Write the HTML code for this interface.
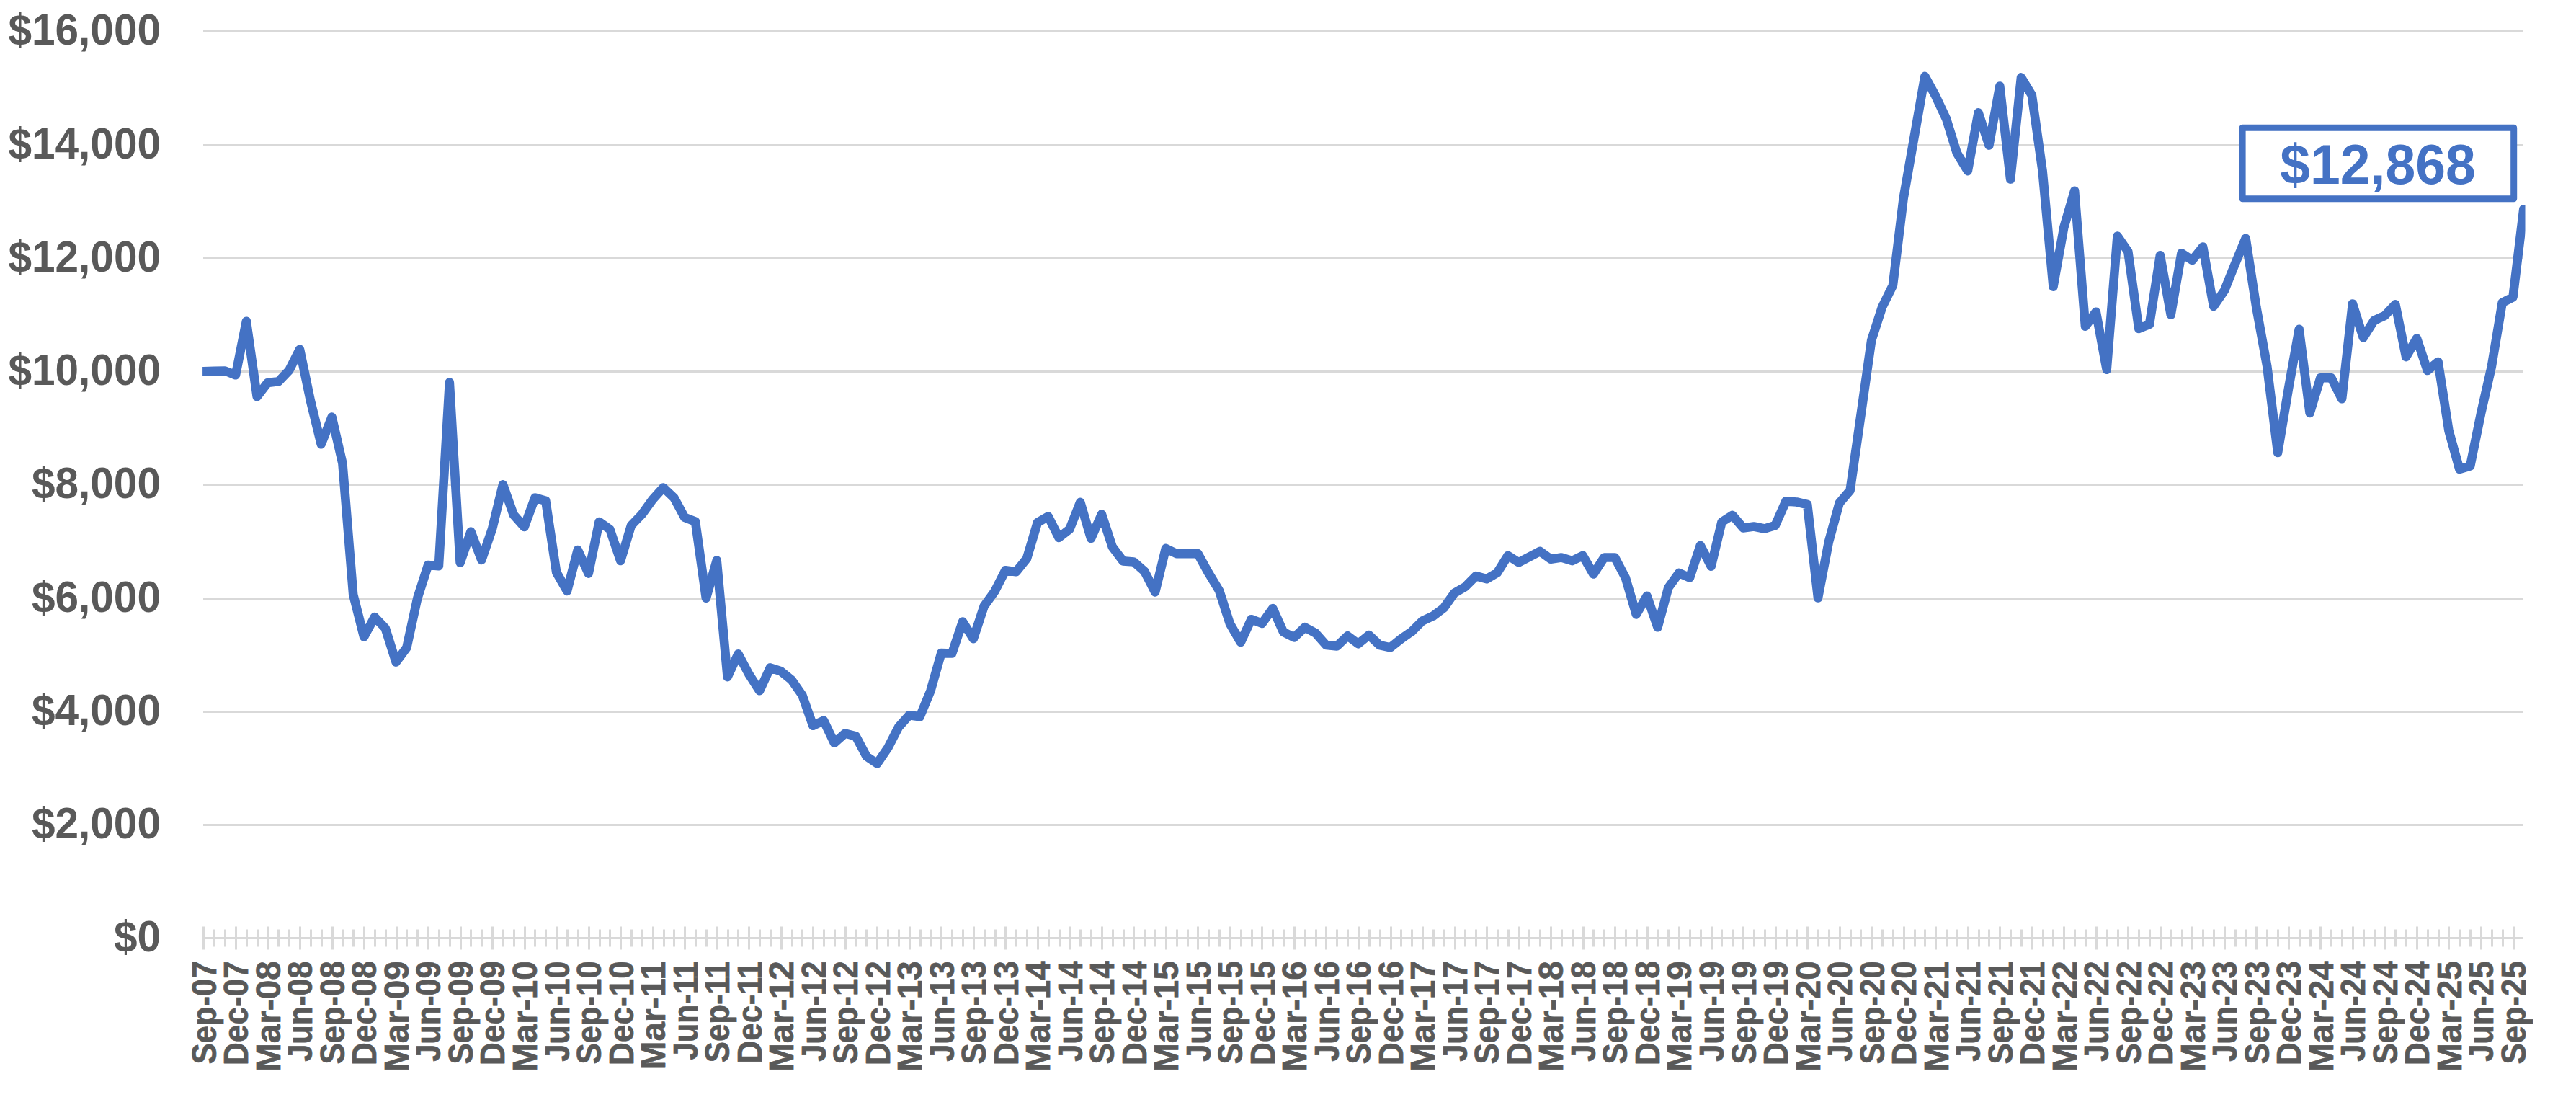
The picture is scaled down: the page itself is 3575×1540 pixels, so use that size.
<!DOCTYPE html>
<html><head><meta charset="utf-8"><title>Chart</title>
<style>
html,body{margin:0;padding:0;background:#fff;}
body{width:3575px;height:1540px;overflow:hidden;}
svg{display:block;}
text{font-family:"Liberation Sans",sans-serif;font-weight:bold;}
.yl{font-size:60.5px;fill:#595959;text-anchor:end;}
.xl{font-size:48px;fill:#595959;text-anchor:end;stroke:#595959;stroke-width:0.7px;stroke-linejoin:round;}
.val{font-size:77px;fill:#4472C4;text-anchor:middle;}
</style></head><body>
<svg width="3575" height="1540" viewBox="0 0 3575 1540">
<rect width="3575" height="1540" fill="#fff"/>

<g fill="#D9D9D9" shape-rendering="crispEdges">
<rect x="282.3" y="42" width="3218.9" height="3"/>
<rect x="282.3" y="200" width="3218.9" height="3"/>
<rect x="282.3" y="357" width="3218.9" height="3"/>
<rect x="282.3" y="514" width="3218.9" height="3"/>
<rect x="282.3" y="671" width="3218.9" height="3"/>
<rect x="282.3" y="829" width="3218.9" height="3"/>
<rect x="282.3" y="986" width="3218.9" height="3"/>
<rect x="282.3" y="1143" width="3218.9" height="3"/>
<rect x="281" y="1300" width="3220" height="3"/>
<path shape-rendering="auto" d="M281 1285.5h3v32h-3zM296 1289.5h3v24h-3zM311 1289.5h3v24h-3zM326 1285.5h3v32h-3zM341 1289.5h3v24h-3zM356 1289.5h3v24h-3zM371 1285.5h3v32h-3zM385 1289.5h3v24h-3zM400 1289.5h3v24h-3zM415 1285.5h3v32h-3zM430 1289.5h3v24h-3zM445 1289.5h3v24h-3zM460 1285.5h3v32h-3zM474 1289.5h3v24h-3zM489 1289.5h3v24h-3zM504 1285.5h3v32h-3zM519 1289.5h3v24h-3zM534 1289.5h3v24h-3zM549 1285.5h3v32h-3zM563 1289.5h3v24h-3zM578 1289.5h3v24h-3zM593 1285.5h3v32h-3zM608 1289.5h3v24h-3zM623 1289.5h3v24h-3zM638 1285.5h3v32h-3zM652 1289.5h3v24h-3zM667 1289.5h3v24h-3zM682 1285.5h3v32h-3zM697 1289.5h3v24h-3zM712 1289.5h3v24h-3zM727 1285.5h3v32h-3zM741 1289.5h3v24h-3zM756 1289.5h3v24h-3zM771 1285.5h3v32h-3zM786 1289.5h3v24h-3zM801 1289.5h3v24h-3zM816 1285.5h3v32h-3zM831 1289.5h3v24h-3zM845 1289.5h3v24h-3zM860 1285.5h3v32h-3zM875 1289.5h3v24h-3zM890 1289.5h3v24h-3zM905 1285.5h3v32h-3zM920 1289.5h3v24h-3zM934 1289.5h3v24h-3zM949 1285.5h3v32h-3zM964 1289.5h3v24h-3zM979 1289.5h3v24h-3zM994 1285.5h3v32h-3zM1009 1289.5h3v24h-3zM1023 1289.5h3v24h-3zM1038 1285.5h3v32h-3zM1053 1289.5h3v24h-3zM1068 1289.5h3v24h-3zM1083 1285.5h3v32h-3zM1098 1289.5h3v24h-3zM1112 1289.5h3v24h-3zM1127 1285.5h3v32h-3zM1142 1289.5h3v24h-3zM1157 1289.5h3v24h-3zM1172 1285.5h3v32h-3zM1187 1289.5h3v24h-3zM1201 1289.5h3v24h-3zM1216 1285.5h3v32h-3zM1231 1289.5h3v24h-3zM1246 1289.5h3v24h-3zM1261 1285.5h3v32h-3zM1276 1289.5h3v24h-3zM1290 1289.5h3v24h-3zM1305 1285.5h3v32h-3zM1320 1289.5h3v24h-3zM1335 1289.5h3v24h-3zM1350 1285.5h3v32h-3zM1365 1289.5h3v24h-3zM1380 1289.5h3v24h-3zM1394 1285.5h3v32h-3zM1409 1289.5h3v24h-3zM1424 1289.5h3v24h-3zM1439 1285.5h3v32h-3zM1454 1289.5h3v24h-3zM1469 1289.5h3v24h-3zM1483 1285.5h3v32h-3zM1498 1289.5h3v24h-3zM1513 1289.5h3v24h-3zM1528 1285.5h3v32h-3zM1543 1289.5h3v24h-3zM1558 1289.5h3v24h-3zM1572 1285.5h3v32h-3zM1587 1289.5h3v24h-3zM1602 1289.5h3v24h-3zM1617 1285.5h3v32h-3zM1632 1289.5h3v24h-3zM1647 1289.5h3v24h-3zM1661 1285.5h3v32h-3zM1676 1289.5h3v24h-3zM1691 1289.5h3v24h-3zM1706 1285.5h3v32h-3zM1721 1289.5h3v24h-3zM1736 1289.5h3v24h-3zM1750 1285.5h3v32h-3zM1765 1289.5h3v24h-3zM1780 1289.5h3v24h-3zM1795 1285.5h3v32h-3zM1810 1289.5h3v24h-3zM1825 1289.5h3v24h-3zM1839 1285.5h3v32h-3zM1854 1289.5h3v24h-3zM1869 1289.5h3v24h-3zM1884 1285.5h3v32h-3zM1899 1289.5h3v24h-3zM1914 1289.5h3v24h-3zM1929 1285.5h3v32h-3zM1943 1289.5h3v24h-3zM1958 1289.5h3v24h-3zM1973 1285.5h3v32h-3zM1988 1289.5h3v24h-3zM2003 1289.5h3v24h-3zM2018 1285.5h3v32h-3zM2032 1289.5h3v24h-3zM2047 1289.5h3v24h-3zM2062 1285.5h3v32h-3zM2077 1289.5h3v24h-3zM2092 1289.5h3v24h-3zM2107 1285.5h3v32h-3zM2121 1289.5h3v24h-3zM2136 1289.5h3v24h-3zM2151 1285.5h3v32h-3zM2166 1289.5h3v24h-3zM2181 1289.5h3v24h-3zM2196 1285.5h3v32h-3zM2210 1289.5h3v24h-3zM2225 1289.5h3v24h-3zM2240 1285.5h3v32h-3zM2255 1289.5h3v24h-3zM2270 1289.5h3v24h-3zM2285 1285.5h3v32h-3zM2299 1289.5h3v24h-3zM2314 1289.5h3v24h-3zM2329 1285.5h3v32h-3zM2344 1289.5h3v24h-3zM2359 1289.5h3v24h-3zM2374 1285.5h3v32h-3zM2388 1289.5h3v24h-3zM2403 1289.5h3v24h-3zM2418 1285.5h3v32h-3zM2433 1289.5h3v24h-3zM2448 1289.5h3v24h-3zM2463 1285.5h3v32h-3zM2478 1289.5h3v24h-3zM2492 1289.5h3v24h-3zM2507 1285.5h3v32h-3zM2522 1289.5h3v24h-3zM2537 1289.5h3v24h-3zM2552 1285.5h3v32h-3zM2567 1289.5h3v24h-3zM2581 1289.5h3v24h-3zM2596 1285.5h3v32h-3zM2611 1289.5h3v24h-3zM2626 1289.5h3v24h-3zM2641 1285.5h3v32h-3zM2656 1289.5h3v24h-3zM2670 1289.5h3v24h-3zM2685 1285.5h3v32h-3zM2700 1289.5h3v24h-3zM2715 1289.5h3v24h-3zM2730 1285.5h3v32h-3zM2745 1289.5h3v24h-3zM2759 1289.5h3v24h-3zM2774 1285.5h3v32h-3zM2789 1289.5h3v24h-3zM2804 1289.5h3v24h-3zM2819 1285.5h3v32h-3zM2834 1289.5h3v24h-3zM2848 1289.5h3v24h-3zM2863 1285.5h3v32h-3zM2878 1289.5h3v24h-3zM2893 1289.5h3v24h-3zM2908 1285.5h3v32h-3zM2923 1289.5h3v24h-3zM2938 1289.5h3v24h-3zM2952 1285.5h3v32h-3zM2967 1289.5h3v24h-3zM2982 1289.5h3v24h-3zM2997 1285.5h3v32h-3zM3012 1289.5h3v24h-3zM3027 1289.5h3v24h-3zM3041 1285.5h3v32h-3zM3056 1289.5h3v24h-3zM3071 1289.5h3v24h-3zM3086 1285.5h3v32h-3zM3101 1289.5h3v24h-3zM3116 1289.5h3v24h-3zM3130 1285.5h3v32h-3zM3145 1289.5h3v24h-3zM3160 1289.5h3v24h-3zM3175 1285.5h3v32h-3zM3190 1289.5h3v24h-3zM3205 1289.5h3v24h-3zM3219 1285.5h3v32h-3zM3234 1289.5h3v24h-3zM3249 1289.5h3v24h-3zM3264 1285.5h3v32h-3zM3279 1289.5h3v24h-3zM3294 1289.5h3v24h-3zM3308 1285.5h3v32h-3zM3323 1289.5h3v24h-3zM3338 1289.5h3v24h-3zM3353 1285.5h3v32h-3zM3368 1289.5h3v24h-3zM3383 1289.5h3v24h-3zM3397 1285.5h3v32h-3zM3412 1289.5h3v24h-3zM3427 1289.5h3v24h-3zM3442 1285.5h3v32h-3zM3457 1289.5h3v24h-3zM3472 1289.5h3v24h-3zM3487 1285.5h3v32h-3z"/>
</g>
<text class="yl" transform="translate(223 62.4) scale(0.968 1)">$16,000</text>
<text class="yl" transform="translate(223 220.4) scale(0.968 1)">$14,000</text>
<text class="yl" transform="translate(223 377.4) scale(0.968 1)">$12,000</text>
<text class="yl" transform="translate(223 534.4) scale(0.968 1)">$10,000</text>
<text class="yl" transform="translate(223 691.4) scale(0.968 1)">$8,000</text>
<text class="yl" transform="translate(223 849.4) scale(0.968 1)">$6,000</text>
<text class="yl" transform="translate(223 1006.4) scale(0.968 1)">$4,000</text>
<text class="yl" transform="translate(223 1163.4) scale(0.968 1)">$2,000</text>
<text class="yl" transform="translate(223 1320.4) scale(0.968 1)">$0</text>
<text class="xl" transform="translate(299.8 1333.3) rotate(-90) scale(0.9107 1)">Sep-07</text>
<text class="xl" transform="translate(344.3 1333.3) rotate(-90) scale(0.919 1)">Dec-07</text>
<text class="xl" transform="translate(388.8 1333.3) rotate(-90) scale(0.9927 1)">Mar-08</text>
<text class="xl" transform="translate(433.3 1333.3) rotate(-90) scale(0.902 1)">Jun-08</text>
<text class="xl" transform="translate(477.9 1333.3) rotate(-90) scale(0.9107 1)">Sep-08</text>
<text class="xl" transform="translate(522.4 1333.3) rotate(-90) scale(0.919 1)">Dec-08</text>
<text class="xl" transform="translate(566.9 1333.3) rotate(-90) scale(0.9927 1)">Mar-09</text>
<text class="xl" transform="translate(611.4 1333.3) rotate(-90) scale(0.902 1)">Jun-09</text>
<text class="xl" transform="translate(655.9 1333.3) rotate(-90) scale(0.9107 1)">Sep-09</text>
<text class="xl" transform="translate(700.4 1333.3) rotate(-90) scale(0.919 1)">Dec-09</text>
<text class="xl" transform="translate(744.9 1333.3) rotate(-90) scale(0.9927 1)">Mar-10</text>
<text class="xl" transform="translate(789.5 1333.3) rotate(-90) scale(0.902 1)">Jun-10</text>
<text class="xl" transform="translate(834.0 1333.3) rotate(-90) scale(0.9107 1)">Sep-10</text>
<text class="xl" transform="translate(878.5 1333.3) rotate(-90) scale(0.919 1)">Dec-10</text>
<text class="xl" transform="translate(923.0 1333.3) rotate(-90) scale(0.9927 1)">Mar-11</text>
<text class="xl" transform="translate(967.5 1333.3) rotate(-90) scale(0.902 1)">Jun-11</text>
<text class="xl" transform="translate(1012.0 1333.3) rotate(-90) scale(0.9107 1)">Sep-11</text>
<text class="xl" transform="translate(1056.5 1333.3) rotate(-90) scale(0.919 1)">Dec-11</text>
<text class="xl" transform="translate(1101.1 1333.3) rotate(-90) scale(0.9927 1)">Mar-12</text>
<text class="xl" transform="translate(1145.6 1333.3) rotate(-90) scale(0.902 1)">Jun-12</text>
<text class="xl" transform="translate(1190.1 1333.3) rotate(-90) scale(0.9107 1)">Sep-12</text>
<text class="xl" transform="translate(1234.6 1333.3) rotate(-90) scale(0.919 1)">Dec-12</text>
<text class="xl" transform="translate(1279.1 1333.3) rotate(-90) scale(0.9927 1)">Mar-13</text>
<text class="xl" transform="translate(1323.6 1333.3) rotate(-90) scale(0.902 1)">Jun-13</text>
<text class="xl" transform="translate(1368.1 1333.3) rotate(-90) scale(0.9107 1)">Sep-13</text>
<text class="xl" transform="translate(1412.6 1333.3) rotate(-90) scale(0.919 1)">Dec-13</text>
<text class="xl" transform="translate(1457.2 1333.3) rotate(-90) scale(0.9927 1)">Mar-14</text>
<text class="xl" transform="translate(1501.7 1333.3) rotate(-90) scale(0.902 1)">Jun-14</text>
<text class="xl" transform="translate(1546.2 1333.3) rotate(-90) scale(0.9107 1)">Sep-14</text>
<text class="xl" transform="translate(1590.7 1333.3) rotate(-90) scale(0.919 1)">Dec-14</text>
<text class="xl" transform="translate(1635.2 1333.3) rotate(-90) scale(0.9927 1)">Mar-15</text>
<text class="xl" transform="translate(1679.7 1333.3) rotate(-90) scale(0.902 1)">Jun-15</text>
<text class="xl" transform="translate(1724.2 1333.3) rotate(-90) scale(0.9107 1)">Sep-15</text>
<text class="xl" transform="translate(1768.8 1333.3) rotate(-90) scale(0.919 1)">Dec-15</text>
<text class="xl" transform="translate(1813.3 1333.3) rotate(-90) scale(0.9927 1)">Mar-16</text>
<text class="xl" transform="translate(1857.8 1333.3) rotate(-90) scale(0.902 1)">Jun-16</text>
<text class="xl" transform="translate(1902.3 1333.3) rotate(-90) scale(0.9107 1)">Sep-16</text>
<text class="xl" transform="translate(1946.8 1333.3) rotate(-90) scale(0.919 1)">Dec-16</text>
<text class="xl" transform="translate(1991.3 1333.3) rotate(-90) scale(0.9927 1)">Mar-17</text>
<text class="xl" transform="translate(2035.8 1333.3) rotate(-90) scale(0.902 1)">Jun-17</text>
<text class="xl" transform="translate(2080.4 1333.3) rotate(-90) scale(0.9107 1)">Sep-17</text>
<text class="xl" transform="translate(2124.9 1333.3) rotate(-90) scale(0.919 1)">Dec-17</text>
<text class="xl" transform="translate(2169.4 1333.3) rotate(-90) scale(0.9927 1)">Mar-18</text>
<text class="xl" transform="translate(2213.9 1333.3) rotate(-90) scale(0.902 1)">Jun-18</text>
<text class="xl" transform="translate(2258.4 1333.3) rotate(-90) scale(0.9107 1)">Sep-18</text>
<text class="xl" transform="translate(2302.9 1333.3) rotate(-90) scale(0.919 1)">Dec-18</text>
<text class="xl" transform="translate(2347.4 1333.3) rotate(-90) scale(0.9927 1)">Mar-19</text>
<text class="xl" transform="translate(2392.0 1333.3) rotate(-90) scale(0.902 1)">Jun-19</text>
<text class="xl" transform="translate(2436.5 1333.3) rotate(-90) scale(0.9107 1)">Sep-19</text>
<text class="xl" transform="translate(2481.0 1333.3) rotate(-90) scale(0.919 1)">Dec-19</text>
<text class="xl" transform="translate(2525.5 1333.3) rotate(-90) scale(0.9927 1)">Mar-20</text>
<text class="xl" transform="translate(2570.0 1333.3) rotate(-90) scale(0.902 1)">Jun-20</text>
<text class="xl" transform="translate(2614.5 1333.3) rotate(-90) scale(0.9107 1)">Sep-20</text>
<text class="xl" transform="translate(2659.0 1333.3) rotate(-90) scale(0.919 1)">Dec-20</text>
<text class="xl" transform="translate(2703.6 1333.3) rotate(-90) scale(0.9927 1)">Mar-21</text>
<text class="xl" transform="translate(2748.1 1333.3) rotate(-90) scale(0.902 1)">Jun-21</text>
<text class="xl" transform="translate(2792.6 1333.3) rotate(-90) scale(0.9107 1)">Sep-21</text>
<text class="xl" transform="translate(2837.1 1333.3) rotate(-90) scale(0.919 1)">Dec-21</text>
<text class="xl" transform="translate(2881.6 1333.3) rotate(-90) scale(0.9927 1)">Mar-22</text>
<text class="xl" transform="translate(2926.1 1333.3) rotate(-90) scale(0.902 1)">Jun-22</text>
<text class="xl" transform="translate(2970.6 1333.3) rotate(-90) scale(0.9107 1)">Sep-22</text>
<text class="xl" transform="translate(3015.2 1333.3) rotate(-90) scale(0.919 1)">Dec-22</text>
<text class="xl" transform="translate(3059.7 1333.3) rotate(-90) scale(0.9927 1)">Mar-23</text>
<text class="xl" transform="translate(3104.2 1333.3) rotate(-90) scale(0.902 1)">Jun-23</text>
<text class="xl" transform="translate(3148.7 1333.3) rotate(-90) scale(0.9107 1)">Sep-23</text>
<text class="xl" transform="translate(3193.2 1333.3) rotate(-90) scale(0.919 1)">Dec-23</text>
<text class="xl" transform="translate(3237.7 1333.3) rotate(-90) scale(0.9927 1)">Mar-24</text>
<text class="xl" transform="translate(3282.2 1333.3) rotate(-90) scale(0.902 1)">Jun-24</text>
<text class="xl" transform="translate(3326.8 1333.3) rotate(-90) scale(0.9107 1)">Sep-24</text>
<text class="xl" transform="translate(3371.3 1333.3) rotate(-90) scale(0.919 1)">Dec-24</text>
<text class="xl" transform="translate(3415.8 1333.3) rotate(-90) scale(0.9927 1)">Mar-25</text>
<text class="xl" transform="translate(3460.3 1333.3) rotate(-90) scale(0.902 1)">Jun-25</text>
<text class="xl" transform="translate(3504.8 1333.3) rotate(-90) scale(0.9107 1)">Sep-25</text>
<clipPath id="c"><rect x="281.1" y="0" width="3223.4" height="1540"/></clipPath>
<polyline clip-path="url(#c)" points="282.5,515.2 297.3,514.9 312.2,514.5 327.0,520.3 341.9,445.8 356.7,550.3 371.5,530.9 386.4,529.3 401.2,513.8 416.0,484.7 430.9,556.0 445.7,616.3 460.6,578.6 475.4,642.8 490.2,825.0 505.1,883.6 519.9,856.1 534.7,871.5 549.6,918.6 564.4,898.5 579.3,830.0 594.1,784.0 608.9,785.2 623.8,530.5 638.6,780.7 653.5,737.6 668.3,776.9 683.1,733.8 698.0,672.3 712.8,714.3 727.6,731.0 742.5,690.5 757.3,694.9 772.2,794.0 787.0,819.9 801.8,763.0 816.7,795.6 831.5,724.0 846.3,734.3 861.2,778.0 876.0,729.0 890.9,713.5 905.7,693.0 920.5,676.5 935.4,690.6 950.2,717.9 965.0,723.7 979.9,829.8 994.7,777.6 1009.6,939.2 1024.4,907.3 1039.2,935.1 1054.1,958.3 1068.9,926.4 1083.8,931.3 1098.6,943.4 1113.4,964.5 1128.3,1006.8 1143.1,999.7 1157.9,1030.8 1172.8,1017.5 1187.6,1021.3 1202.5,1049.4 1217.3,1059.4 1232.1,1037.8 1247.0,1008.8 1261.8,992.3 1276.6,994.3 1291.5,958.3 1306.3,906.1 1321.2,906.5 1336.0,862.5 1350.8,886.2 1365.7,841.0 1380.5,820.3 1395.3,791.3 1410.2,793.3 1425.0,774.9 1439.9,724.9 1454.7,716.5 1469.5,745.9 1484.4,734.3 1499.2,696.8 1514.1,747.0 1528.9,713.5 1543.7,758.6 1558.6,778.4 1573.4,779.5 1588.2,792.4 1603.1,821.4 1617.9,760.8 1632.8,768.1 1647.6,768.1 1662.4,768.1 1677.3,795.1 1692.1,819.5 1706.9,865.4 1721.8,891.1 1736.6,859.2 1751.5,864.9 1766.3,844.1 1781.1,876.8 1796.0,884.3 1810.8,870.3 1825.7,878.4 1840.5,895.1 1855.3,896.5 1870.2,882.2 1885.0,893.2 1899.8,881.1 1914.7,895.1 1929.5,898.4 1944.4,886.5 1959.2,876.2 1974.0,861.4 1988.9,854.6 2003.7,843.5 2018.5,822.7 2033.4,814.1 2048.2,799.2 2063.1,803.2 2077.9,794.6 2092.7,770.8 2107.6,780.3 2122.4,772.7 2137.2,764.9 2152.1,775.7 2166.9,773.5 2181.8,778.1 2196.6,770.8 2211.4,796.5 2226.3,773.5 2241.1,773.5 2256.0,801.9 2270.8,852.4 2285.6,826.8 2300.5,870.3 2315.3,815.4 2330.1,794.9 2345.0,801.4 2359.8,756.8 2374.7,785.7 2389.5,724.3 2404.3,714.9 2419.2,732.4 2434.0,730.5 2448.8,733.5 2463.7,728.9 2478.5,695.4 2493.4,696.5 2508.2,700.0 2523.0,829.5 2537.9,751.9 2552.7,697.8 2567.6,680.3 2582.4,576.5 2597.2,472.2 2612.1,426.0 2626.9,396.0 2641.7,274.8 2656.6,189.8 2671.4,105.9 2686.3,133.3 2701.1,165.0 2715.9,212.6 2730.8,237.1 2745.6,156.4 2760.4,201.6 2775.3,119.5 2790.1,248.6 2805.0,107.4 2819.8,131.9 2834.6,237.1 2849.5,397.7 2864.3,315.5 2879.1,264.8 2894.0,452.7 2908.8,432.7 2923.7,512.7 2938.5,327.5 2953.3,349.0 2968.2,456.0 2983.0,450.0 2997.9,354.3 3012.7,436.7 3027.5,351.2 3042.4,361.0 3057.2,342.5 3072.0,425.0 3086.9,403.3 3101.7,366.5 3116.6,330.7 3131.4,426.7 3146.2,507.8 3161.1,628.0 3175.9,539.6 3190.7,456.8 3205.6,572.9 3220.4,524.2 3235.3,524.2 3250.1,553.3 3264.9,421.5 3279.8,468.4 3294.6,444.8 3309.5,438.0 3324.3,422.2 3339.1,495.1 3354.0,469.5 3368.8,514.0 3383.6,502.0 3398.5,597.8 3413.3,650.9 3428.2,646.5 3443.0,573.9 3457.8,508.8 3472.7,419.8 3487.5,412.3 3502.3,290.2" fill="none" stroke="#4472C4" stroke-width="12.6" stroke-linejoin="round" stroke-linecap="round"/>
<rect x="3112.1" y="177.2" width="376.6" height="98.6" fill="#fff" stroke="#4472C4" stroke-width="9" stroke-linejoin="round"/>
<text class="val" transform="translate(3300 255) scale(0.975 1)">$12,868</text>
</svg></body></html>
